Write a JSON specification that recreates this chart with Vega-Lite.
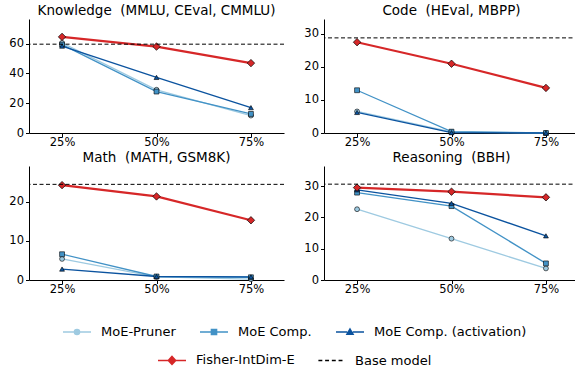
{
  "$schema": "https://vega.github.io/schema/vega-lite/v6.json",
  "padding": {"left": 8, "top": 3, "right": 0, "bottom": 0},
  "datasets": {
    "perf": [
      {"panel": "Knowledge", "method": "MoE-Pruner", "x": "25%", "value": 60.5},
      {"panel": "Knowledge", "method": "MoE-Pruner", "x": "50%", "value": 29.0},
      {"panel": "Knowledge", "method": "MoE-Pruner", "x": "75%", "value": 11.7},
      {"panel": "Knowledge", "method": "MoE Comp.", "x": "25%", "value": 59.3},
      {"panel": "Knowledge", "method": "MoE Comp.", "x": "50%", "value": 27.8},
      {"panel": "Knowledge", "method": "MoE Comp.", "x": "75%", "value": 12.8},
      {"panel": "Knowledge", "method": "MoE Comp. (activation)", "x": "25%", "value": 58.3},
      {"panel": "Knowledge", "method": "MoE Comp. (activation)", "x": "50%", "value": 37.3},
      {"panel": "Knowledge", "method": "MoE Comp. (activation)", "x": "75%", "value": 17.0},
      {"panel": "Knowledge", "method": "Fisher-IntDim-E", "x": "25%", "value": 64.5},
      {"panel": "Knowledge", "method": "Fisher-IntDim-E", "x": "50%", "value": 58.0},
      {"panel": "Knowledge", "method": "Fisher-IntDim-E", "x": "75%", "value": 46.9},
      {"panel": "Code", "method": "MoE-Pruner", "x": "25%", "value": 6.5},
      {"panel": "Code", "method": "MoE-Pruner", "x": "50%", "value": 0.3},
      {"panel": "Code", "method": "MoE-Pruner", "x": "75%", "value": 0.0},
      {"panel": "Code", "method": "MoE Comp.", "x": "25%", "value": 12.9},
      {"panel": "Code", "method": "MoE Comp.", "x": "50%", "value": 0.4},
      {"panel": "Code", "method": "MoE Comp.", "x": "75%", "value": 0.0},
      {"panel": "Code", "method": "MoE Comp. (activation)", "x": "25%", "value": 6.2},
      {"panel": "Code", "method": "MoE Comp. (activation)", "x": "50%", "value": 0.1},
      {"panel": "Code", "method": "MoE Comp. (activation)", "x": "75%", "value": 0.0},
      {"panel": "Code", "method": "Fisher-IntDim-E", "x": "25%", "value": 27.4},
      {"panel": "Code", "method": "Fisher-IntDim-E", "x": "50%", "value": 20.9},
      {"panel": "Code", "method": "Fisher-IntDim-E", "x": "75%", "value": 13.6},
      {"panel": "Math", "method": "MoE-Pruner", "x": "25%", "value": 5.4},
      {"panel": "Math", "method": "MoE-Pruner", "x": "50%", "value": 0.8},
      {"panel": "Math", "method": "MoE-Pruner", "x": "75%", "value": 0.2},
      {"panel": "Math", "method": "MoE Comp.", "x": "25%", "value": 6.6},
      {"panel": "Math", "method": "MoE Comp.", "x": "50%", "value": 0.9},
      {"panel": "Math", "method": "MoE Comp.", "x": "75%", "value": 0.7},
      {"panel": "Math", "method": "MoE Comp. (activation)", "x": "25%", "value": 2.8},
      {"panel": "Math", "method": "MoE Comp. (activation)", "x": "50%", "value": 0.9},
      {"panel": "Math", "method": "MoE Comp. (activation)", "x": "75%", "value": 0.8},
      {"panel": "Math", "method": "Fisher-IntDim-E", "x": "25%", "value": 24.3},
      {"panel": "Math", "method": "Fisher-IntDim-E", "x": "50%", "value": 21.4},
      {"panel": "Math", "method": "Fisher-IntDim-E", "x": "75%", "value": 15.3},
      {"panel": "Reasoning", "method": "MoE-Pruner", "x": "25%", "value": 22.6},
      {"panel": "Reasoning", "method": "MoE-Pruner", "x": "50%", "value": 13.2},
      {"panel": "Reasoning", "method": "MoE-Pruner", "x": "75%", "value": 3.7},
      {"panel": "Reasoning", "method": "MoE Comp.", "x": "25%", "value": 27.9},
      {"panel": "Reasoning", "method": "MoE Comp.", "x": "50%", "value": 23.6},
      {"panel": "Reasoning", "method": "MoE Comp.", "x": "75%", "value": 5.3},
      {"panel": "Reasoning", "method": "MoE Comp. (activation)", "x": "25%", "value": 28.8},
      {"panel": "Reasoning", "method": "MoE Comp. (activation)", "x": "50%", "value": 24.5},
      {"panel": "Reasoning", "method": "MoE Comp. (activation)", "x": "75%", "value": 14.1},
      {"panel": "Reasoning", "method": "Fisher-IntDim-E", "x": "25%", "value": 29.5},
      {"panel": "Reasoning", "method": "Fisher-IntDim-E", "x": "50%", "value": 28.2},
      {"panel": "Reasoning", "method": "Fisher-IntDim-E", "x": "75%", "value": 26.4}
    ],
    "base": [
      {"panel": "Knowledge", "method": "Base model", "value": 59.6},
      {"panel": "Code", "method": "Base model", "value": 28.7},
      {"panel": "Math", "method": "Base model", "value": 24.5},
      {"panel": "Reasoning", "method": "Base model", "value": 30.6}
    ]
  },
  "vconcat": [
    {
      "hconcat": [
        {
          "width": 255, "height": 114,
          "title": "Knowledge\u00a0 (MMLU, CEval, CMMLU)",
          "encoding": {"y": {"field": "value", "type": "quantitative", "scale": {"domain": [0, 76.5], "nice": false, "zero": true}, "axis": {"values": [0, 20, 40, 60]}}},
          "layer": [
            {"data": {"name": "perf"}, "transform": [{"filter": "datum.panel === 'Knowledge' && datum.method !== 'Fisher-IntDim-E'"}],
             "mark": {"type": "line", "strokeWidth": 1.3},
             "encoding": {"x": {"field": "x", "type": "ordinal"},
               "color": {"field": "method", "type": "nominal",
                 "scale": {"domain": ["MoE-Pruner", "MoE Comp.", "MoE Comp. (activation)"], "range": ["#9ecae1", "#4292c6", "#0b539f"]},
                 "legend": {"symbolType": {"expr": "datum.value === 'MoE-Pruner' ? 'M-1,0H-0.19M0.19,0H1M0.18,0A0.18,0.18,0,1,1,-0.18,0A0.18,0.18,0,1,1,0.18,0Z' : datum.value === 'MoE Comp.' ? 'M-1,0H-0.18M0.18,0H1M-0.18,-0.18H0.18V0.18H-0.18Z' : 'M-1,0H-0.2M0.2,0H1M0,-0.2L0.21,0.16L-0.21,0.16Z'"},
                   "symbolFillColor": {"expr": "scale('color', datum.value)"}}}}},
            {"data": {"name": "perf"}, "transform": [{"filter": "datum.panel === 'Knowledge' && datum.method !== 'Fisher-IntDim-E'"}],
             "mark": {"type": "point", "filled": true, "stroke": "black", "strokeWidth": 0.6, "opacity": 1, "size": 24},
             "encoding": {"x": {"field": "x", "type": "ordinal"}, "color": {"field": "method", "type": "nominal", "legend": null},
               "shape": {"condition": [{"test": "datum.method === 'MoE Comp.'", "value": "square"}, {"test": "datum.method === 'MoE Comp. (activation)'", "value": "triangle-up"}], "value": "circle"}}},
            {"data": {"name": "perf"}, "transform": [{"filter": "datum.panel === 'Knowledge' && datum.method === 'Fisher-IntDim-E'"}],
             "mark": {"type": "line", "strokeWidth": 2.2},
             "encoding": {"x": {"field": "x", "type": "ordinal"},
               "stroke": {"field": "method", "type": "nominal",
                 "scale": {"domain": ["Fisher-IntDim-E", "Base model"], "range": ["#d62728", "black"]},
                 "legend": {"symbolType": {"expr": "datum.value === 'Fisher-IntDim-E' ? 'M-1,0H-0.26M0.26,0H1M0,-0.28L0.26,0L0,0.28L-0.26,0Z' : 'M-0.9,0H-0.62M-0.42,0H-0.14M0.06,0H0.34M0.54,0H0.82'"},
                   "symbolFillColor": {"expr": "datum.value === 'Fisher-IntDim-E' ? '#d62728' : 'transparent'"}}}}},
            {"data": {"name": "perf"}, "transform": [{"filter": "datum.panel === 'Knowledge' && datum.method === 'Fisher-IntDim-E'"}],
             "mark": {"type": "point", "shape": "diamond", "filled": true, "fill": "#d62728", "stroke": "black", "strokeWidth": 0.7, "opacity": 1, "size": 55},
             "encoding": {"x": {"field": "x", "type": "ordinal"}}},
            {"data": {"name": "base"}, "transform": [{"filter": "datum.panel === 'Knowledge'"}],
             "mark": {"type": "rule", "strokeDash": [4, 2.5], "strokeWidth": 1},
             "encoding": {"stroke": {"field": "method", "type": "nominal"}}}
          ]
        },
        {
          "width": 255, "height": 114,
          "title": "Code\u00a0 (HEval, MBPP)",
          "encoding": {"y": {"field": "value", "type": "quantitative", "scale": {"domain": [0, 34.4], "nice": false, "zero": true}, "axis": {"values": [0, 10, 20, 30]}}},
          "layer": [
            {"data": {"name": "perf"}, "transform": [{"filter": "datum.panel === 'Code' && datum.method !== 'Fisher-IntDim-E'"}],
             "mark": {"type": "line", "strokeWidth": 1.3},
             "encoding": {"x": {"field": "x", "type": "ordinal"}, "color": {"field": "method", "type": "nominal"}}},
            {"data": {"name": "perf"}, "transform": [{"filter": "datum.panel === 'Code' && datum.method !== 'Fisher-IntDim-E'"}],
             "mark": {"type": "point", "filled": true, "stroke": "black", "strokeWidth": 0.6, "opacity": 1, "size": 24},
             "encoding": {"x": {"field": "x", "type": "ordinal"}, "color": {"field": "method", "type": "nominal", "legend": null},
               "shape": {"condition": [{"test": "datum.method === 'MoE Comp.'", "value": "square"}, {"test": "datum.method === 'MoE Comp. (activation)'", "value": "triangle-up"}], "value": "circle"}}},
            {"data": {"name": "perf"}, "transform": [{"filter": "datum.panel === 'Code' && datum.method === 'Fisher-IntDim-E'"}],
             "mark": {"type": "line", "strokeWidth": 2.2},
             "encoding": {"x": {"field": "x", "type": "ordinal"}, "stroke": {"field": "method", "type": "nominal"}}},
            {"data": {"name": "perf"}, "transform": [{"filter": "datum.panel === 'Code' && datum.method === 'Fisher-IntDim-E'"}],
             "mark": {"type": "point", "shape": "diamond", "filled": true, "fill": "#d62728", "stroke": "black", "strokeWidth": 0.7, "opacity": 1, "size": 55},
             "encoding": {"x": {"field": "x", "type": "ordinal"}}},
            {"data": {"name": "base"}, "transform": [{"filter": "datum.panel === 'Code'"}],
             "mark": {"type": "rule", "strokeDash": [4, 2.5], "strokeWidth": 1},
             "encoding": {"stroke": {"field": "method", "type": "nominal"}}}
          ]
        }
      ],
      "spacing": 18,
      "resolve": {"scale": {"x": "independent", "y": "independent", "color": "shared", "stroke": "shared"}}
    },
    {
      "hconcat": [
        {
          "width": 255, "height": 114,
          "title": "Math\u00a0 (MATH, GSM8K)",
          "encoding": {"y": {"field": "value", "type": "quantitative", "scale": {"domain": [0, 29.2], "nice": false, "zero": true}, "axis": {"values": [0, 10, 20]}}},
          "layer": [
            {"data": {"name": "perf"}, "transform": [{"filter": "datum.panel === 'Math' && datum.method !== 'Fisher-IntDim-E'"}],
             "mark": {"type": "line", "strokeWidth": 1.3},
             "encoding": {"x": {"field": "x", "type": "ordinal"}, "color": {"field": "method", "type": "nominal"}}},
            {"data": {"name": "perf"}, "transform": [{"filter": "datum.panel === 'Math' && datum.method !== 'Fisher-IntDim-E'"}],
             "mark": {"type": "point", "filled": true, "stroke": "black", "strokeWidth": 0.6, "opacity": 1, "size": 24},
             "encoding": {"x": {"field": "x", "type": "ordinal"}, "color": {"field": "method", "type": "nominal", "legend": null},
               "shape": {"condition": [{"test": "datum.method === 'MoE Comp.'", "value": "square"}, {"test": "datum.method === 'MoE Comp. (activation)'", "value": "triangle-up"}], "value": "circle"}}},
            {"data": {"name": "perf"}, "transform": [{"filter": "datum.panel === 'Math' && datum.method === 'Fisher-IntDim-E'"}],
             "mark": {"type": "line", "strokeWidth": 2.2},
             "encoding": {"x": {"field": "x", "type": "ordinal"}, "stroke": {"field": "method", "type": "nominal"}}},
            {"data": {"name": "perf"}, "transform": [{"filter": "datum.panel === 'Math' && datum.method === 'Fisher-IntDim-E'"}],
             "mark": {"type": "point", "shape": "diamond", "filled": true, "fill": "#d62728", "stroke": "black", "strokeWidth": 0.7, "opacity": 1, "size": 55},
             "encoding": {"x": {"field": "x", "type": "ordinal"}}},
            {"data": {"name": "base"}, "transform": [{"filter": "datum.panel === 'Math'"}],
             "mark": {"type": "rule", "strokeDash": [4, 2.5], "strokeWidth": 1},
             "encoding": {"stroke": {"field": "method", "type": "nominal"}}}
          ]
        },
        {
          "width": 255, "height": 114,
          "title": "Reasoning\u00a0 (BBH)",
          "encoding": {"y": {"field": "value", "type": "quantitative", "scale": {"domain": [0, 36.4], "nice": false, "zero": true}, "axis": {"values": [0, 10, 20, 30]}}},
          "layer": [
            {"data": {"name": "perf"}, "transform": [{"filter": "datum.panel === 'Reasoning' && datum.method !== 'Fisher-IntDim-E'"}],
             "mark": {"type": "line", "strokeWidth": 1.3},
             "encoding": {"x": {"field": "x", "type": "ordinal"}, "color": {"field": "method", "type": "nominal"}}},
            {"data": {"name": "perf"}, "transform": [{"filter": "datum.panel === 'Reasoning' && datum.method !== 'Fisher-IntDim-E'"}],
             "mark": {"type": "point", "filled": true, "stroke": "black", "strokeWidth": 0.6, "opacity": 1, "size": 24},
             "encoding": {"x": {"field": "x", "type": "ordinal"}, "color": {"field": "method", "type": "nominal", "legend": null},
               "shape": {"condition": [{"test": "datum.method === 'MoE Comp.'", "value": "square"}, {"test": "datum.method === 'MoE Comp. (activation)'", "value": "triangle-up"}], "value": "circle"}}},
            {"data": {"name": "perf"}, "transform": [{"filter": "datum.panel === 'Reasoning' && datum.method === 'Fisher-IntDim-E'"}],
             "mark": {"type": "line", "strokeWidth": 2.2},
             "encoding": {"x": {"field": "x", "type": "ordinal"}, "stroke": {"field": "method", "type": "nominal"}}},
            {"data": {"name": "perf"}, "transform": [{"filter": "datum.panel === 'Reasoning' && datum.method === 'Fisher-IntDim-E'"}],
             "mark": {"type": "point", "shape": "diamond", "filled": true, "fill": "#d62728", "stroke": "black", "strokeWidth": 0.7, "opacity": 1, "size": 55},
             "encoding": {"x": {"field": "x", "type": "ordinal"}}},
            {"data": {"name": "base"}, "transform": [{"filter": "datum.panel === 'Reasoning'"}],
             "mark": {"type": "rule", "strokeDash": [4, 2.5], "strokeWidth": 1},
             "encoding": {"stroke": {"field": "method", "type": "nominal"}}}
          ]
        }
      ],
      "spacing": 18,
      "resolve": {"scale": {"x": "independent", "y": "independent", "color": "shared", "stroke": "shared"}}
    }
  ],
  "spacing": 2,
  "resolve": {"scale": {"x": "independent", "y": "independent", "color": "shared", "stroke": "shared"}},
  "config": {
    "view": {"stroke": null},
    "font": "DejaVu Sans",
    "title": {"fontSize": 13.5, "fontWeight": "normal", "font": "DejaVu Sans", "offset": 2, "color": "black"},
    "axis": {"title": null, "grid": false, "domainColor": "black", "tickColor": "black", "labelColor": "black", "labelFontSize": 11.5, "labelFont": "DejaVu Sans", "tickSize": 3.5, "labelPadding": 2, "domainWidth": 1, "tickWidth": 1},
    "axisX": {"labelAngle": 0, "labelPadding": 0},
    "scale": {"pointPadding": 0.35},
    "legend": {
      "orient": "bottom",
      "direction": "horizontal",
      "title": null,
      "labelFontSize": 13,
      "labelFont": "DejaVu Sans",
      "labelColor": "black",
      "symbolSize": 784,
      "labelOffset": 9,
      "columnPadding": 20,
      "symbolStrokeWidth": 1.6,
      "offset": 21.5,
      "layout": {"bottom": {"anchor": "middle", "direction": "vertical", "center": true, "margin": 6}}
    }
  },
  "encoding": {}
}
